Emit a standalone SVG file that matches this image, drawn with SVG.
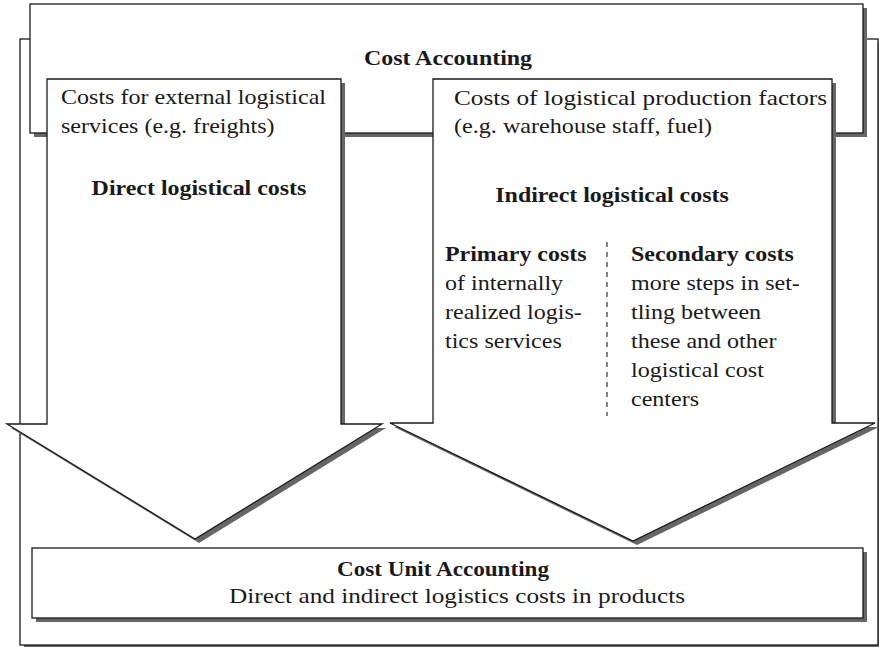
<svg xmlns="http://www.w3.org/2000/svg" width="879" height="647" viewBox="0 0 879 647">
<style>
.shape{fill:#fff;stroke:#1a1a1a;stroke-width:1.3;stroke-linejoin:miter}
.shadow{fill:#666;stroke:none}
text{font-family:"Liberation Serif","Times New Roman",serif;font-size:21px;fill:#1a1a1a}
.b{font-weight:bold}
.m{text-anchor:middle}
.dash{stroke:#333;stroke-width:1.2;stroke-dasharray:5 5;fill:none}
</style>
<rect width="879" height="647" fill="#fff"/>
<g id="outer-frame">
<rect class="shadow" x="24" y="43" width="858" height="606"/>
<rect class="shape" x="20" y="39" width="858" height="606"/>
</g>
<g id="cost-accounting">
<rect class="shadow" x="34" y="8" width="833" height="129"/>
<rect class="shape" x="30" y="4" width="833" height="129"/>
<text class="b m" transform="translate(448 65) scale(1.14 1)">Cost Accounting</text>
</g>
<g id="connectors">
<g id="direct-costs">
<polygon class="shadow" points="51,83 345,83 345,428 386,428 199,543 11,428 51,428"/>
<polygon class="shape" points="47,79 341,79 341,424 382,424 195,539 7,424 47,424"/>
<text transform="translate(61 104) scale(1.145 1)">Costs for external logistical</text>
<text transform="translate(61 133) scale(1.145 1)">services (e.g. freights)</text>
<text class="b m" transform="translate(199 195) scale(1.14 1)">Direct logistical costs</text>
</g>
<g id="indirect-costs">
<polygon class="shadow" points="437,83 836,83 836,427 879,427 637,545 394,427 437,427"/>
<polygon class="shape" points="433,79 832,79 832,423 875,423 633,541 390,423 433,423"/>
<text x="454" y="105" textLength="373" lengthAdjust="spacingAndGlyphs">Costs of logistical production factors</text>
<text transform="translate(454 133) scale(1.15 1)">(e.g. warehouse staff, fuel)</text>
<text class="b m" transform="translate(612 202) scale(1.14 1)">Indirect logistical costs</text>
<line class="dash" x1="607" y1="242" x2="607" y2="416"/>
<text class="b" transform="translate(445 261) scale(1.14 1)">Primary costs</text>
<text transform="translate(445 290) scale(1.145 1)">of internally</text>
<text transform="translate(445 319) scale(1.145 1)">realized logis-</text>
<text transform="translate(445 348) scale(1.145 1)">tics services</text>
<text class="b" transform="translate(631 261) scale(1.14 1)">Secondary costs</text>
<text transform="translate(631 290) scale(1.145 1)">more steps in set-</text>
<text transform="translate(631 319) scale(1.145 1)">tling between</text>
<text transform="translate(631 348) scale(1.145 1)">these and other</text>
<text transform="translate(631 377) scale(1.145 1)">logistical cost</text>
<text transform="translate(631 406) scale(1.145 1)">centers</text>
</g>
</g>
<g id="cost-unit-accounting">
<rect class="shadow" x="36" y="552" width="831" height="70"/>
<rect class="shape" x="32" y="548" width="831" height="70"/>
<text class="b" x="337" y="576" textLength="212" lengthAdjust="spacingAndGlyphs">Cost Unit Accounting</text>
<text x="229" y="603" textLength="456" lengthAdjust="spacingAndGlyphs">Direct and indirect logistics costs in products</text>
</g>
</svg>
